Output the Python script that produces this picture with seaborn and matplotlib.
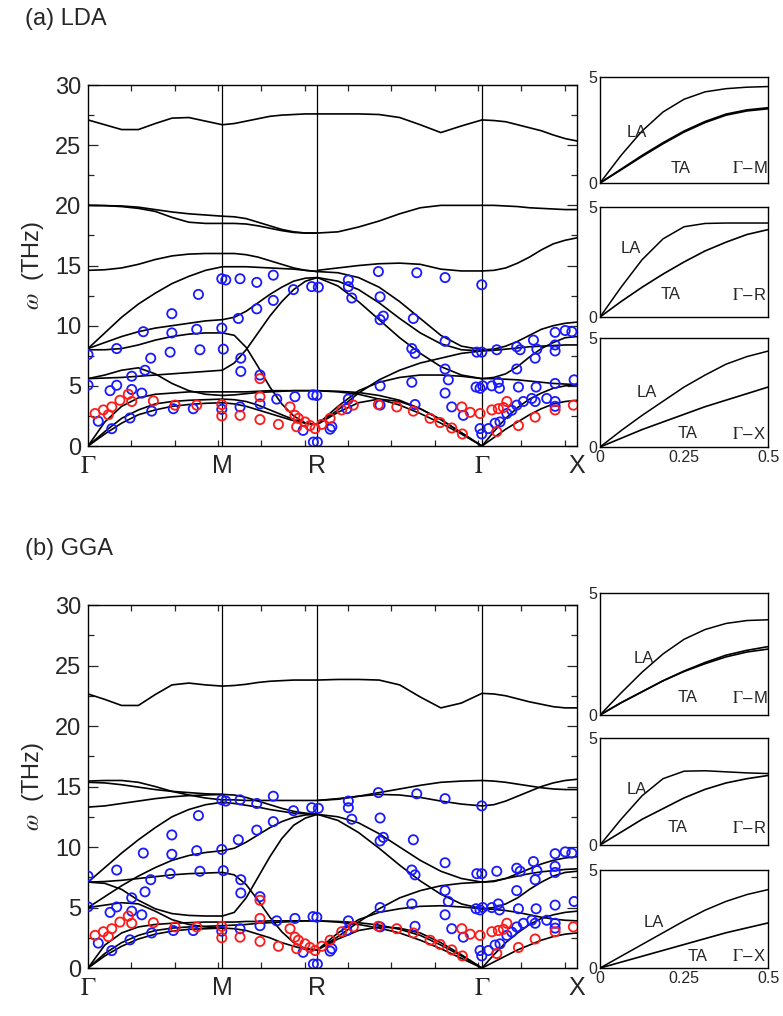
import numpy as np
import pandas as pd
import matplotlib
matplotlib.use("Agg")
import matplotlib.pyplot as plt
from matplotlib.ticker import MultipleLocator
import seaborn as sns

# ---------------------------------------------------------------------------
# k-path  Γ-M-R-Γ-X  (segment lengths in units of 2π/a)
# ---------------------------------------------------------------------------
SEG_LEN = [np.sqrt(2) / 2, 0.5, np.sqrt(3) / 2, 0.5]
SYM_LABELS = [r'$\Gamma$', 'M', 'R', r'$\Gamma$', 'X']
FRAC = np.linspace(0, 1, 9)          # read-off grid along every segment
SYM_K = np.concatenate([[0], np.cumsum(SEG_LEN)])

# ---------------------------------------------------------------------------
# (a) LDA branches, THz, one row per branch, 9 points per segment
# ---------------------------------------------------------------------------
LDA_GM = [
    [27.1, 26.7, 26.3, 26.3, 26.8, 27.25, 27.3, 27.0, 26.7],
    [20.0, 19.98, 19.95, 19.85, 19.65, 19.45, 19.3, 19.2, 19.1],
    [20.0, 19.98, 19.9, 19.75, 19.5, 19.0, 18.6, 18.5, 18.5],
    [14.6, 14.65, 14.8, 15.1, 15.5, 15.8, 15.95, 16.0, 16.0],
    [8.1, 9.4, 10.7, 11.8, 12.7, 13.5, 14.1, 14.6, 14.9],
    [8.1, 8.6, 9.1, 9.5, 9.8, 10.0, 10.2, 10.4, 10.5],
    [8.0, 8.0, 8.1, 8.4, 8.8, 9.1, 9.3, 9.4, 9.4],
    [5.6, 5.65, 5.7, 5.8, 5.9, 6.0, 6.1, 6.2, 6.3],
    [5.6, 5.9, 6.3, 6.5, 6.0, 5.2, 4.6, 4.3, 4.2],
    [0.0, 2.0, 3.3, 4.0, 4.3, 4.4, 4.5, 4.5, 4.5],
    [0.0, 1.2, 2.3, 3.0, 3.5, 3.7, 3.8, 3.85, 3.9],
    [0.0, 1.0, 1.9, 2.6, 3.0, 3.3, 3.45, 3.55, 3.6],
]
LDA_MR = [
    [26.7, 26.8, 27.0, 27.2, 27.4, 27.5, 27.55, 27.6, 27.6],
    [19.1, 19.05, 18.9, 18.6, 18.3, 18.0, 17.8, 17.7, 17.7],
    [18.5, 18.5, 18.45, 18.3, 18.1, 17.9, 17.75, 17.7, 17.7],
    [16.0, 16.0, 15.9, 15.7, 15.4, 15.1, 14.8, 14.6, 14.5],
    [14.9, 14.9, 14.9, 14.85, 14.8, 14.75, 14.7, 14.6, 14.5],
    [10.5, 10.7, 11.2, 11.9, 12.6, 13.2, 13.7, 13.95, 14.0],
    [9.4, 9.2, 8.2, 6.6, 4.9, 3.5, 2.5, 1.9, 1.8],
    [6.3, 6.9, 8.0, 9.4, 10.8, 12.0, 13.0, 13.7, 14.0],
    [4.2, 4.25, 4.35, 4.45, 4.5, 4.55, 4.6, 4.6, 4.6],
    [4.5, 4.5, 4.5, 4.55, 4.6, 4.6, 4.6, 4.6, 4.6],
    [3.9, 3.85, 3.7, 3.4, 3.0, 2.6, 2.2, 1.9, 1.8],
    [3.6, 3.5, 3.3, 3.0, 2.7, 2.4, 2.1, 1.9, 1.8],
]
LDA_RG = [
    [27.6, 27.6, 27.6, 27.55, 27.3, 26.7, 26.05, 26.6, 27.1],
    [17.7, 17.8, 18.2, 18.7, 19.3, 19.8, 20.0, 20.0, 20.0],
    [14.6, 14.8, 15.0, 15.15, 15.2, 15.1, 14.7, 14.55, 14.55],
    [14.5, 14.4, 14.0, 13.2, 12.0, 10.6, 9.2, 8.3, 8.0],
    [14.0, 13.3, 12.0, 10.5, 9.0, 7.7, 6.6, 5.9, 5.6],
    [14.0, 13.7, 13.0, 11.9, 10.6, 9.4, 8.5, 8.0, 7.9],
    [1.8, 3.0, 4.4, 5.5, 6.3, 6.9, 7.3, 7.7, 7.9],
    [1.8, 3.3, 4.6, 5.3, 5.7, 5.9, 5.9, 5.8, 5.6],
    [4.6, 4.55, 4.45, 4.2, 3.8, 3.1, 2.2, 1.1, 0.0],
    [4.6, 4.5, 4.3, 3.9, 3.4, 2.7, 1.9, 1.0, 0.0],
    [1.8, 2.8, 3.6, 3.9, 3.7, 3.1, 2.2, 1.1, 0.0],
]
LDA_GX = [
    [27.1, 27.05, 26.95, 26.7, 26.45, 26.2, 25.85, 25.55, 25.35],
    [20.0, 20.0, 19.95, 19.9, 19.8, 19.75, 19.7, 19.65, 19.65],
    [14.55, 14.6, 14.8, 15.2, 15.7, 16.3, 16.8, 17.1, 17.3],
    [8.0, 8.05, 8.3, 8.7, 9.2, 9.7, 10.0, 10.2, 10.3],
    [7.9, 7.95, 8.05, 8.15, 8.25, 8.3, 8.35, 8.4, 8.4],
    [5.6, 5.7, 6.0, 6.6, 7.4, 8.1, 8.6, 9.0, 9.1],
    [5.6, 5.6, 5.55, 5.5, 5.4, 5.3, 5.2, 5.15, 5.1],
    [0.0, 1.2, 2.3, 3.2, 3.9, 4.4, 4.8, 5.0, 5.1],
    [0.0, 0.7, 1.4, 2.0, 2.6, 3.1, 3.5, 3.7, 3.8],
]

# ---------------------------------------------------------------------------
# (b) GGA branches
# ---------------------------------------------------------------------------
GGA_GM = [
    [22.65, 22.2, 21.7, 21.7, 22.6, 23.4, 23.55, 23.4, 23.3],
    [15.45, 15.5, 15.5, 15.35, 15.0, 14.6, 14.3, 14.05, 13.9],
    [15.35, 15.3, 15.15, 14.95, 14.75, 14.6, 14.5, 14.4, 14.35],
    [13.3, 13.4, 13.6, 13.8, 14.0, 14.15, 14.25, 14.3, 14.35],
    [7.1, 8.3, 9.5, 10.6, 11.6, 12.5, 13.1, 13.5, 13.7],
    [5.0, 5.9, 6.8, 7.6, 8.3, 8.9, 9.3, 9.55, 9.7],
    [7.1, 7.15, 7.25, 7.4, 7.55, 7.7, 7.8, 7.85, 7.9],
    [7.1, 7.0, 6.5, 5.6, 4.9, 4.5, 4.35, 4.3, 4.3],
    [5.0, 5.2, 5.4, 5.3, 4.7, 4.0, 3.6, 3.4, 3.3],
    [0.0, 1.9, 2.9, 3.4, 3.6, 3.7, 3.75, 3.8, 3.8],
    [0.0, 1.2, 2.1, 2.7, 3.1, 3.3, 3.4, 3.45, 3.5],
    [0.0, 1.0, 1.8, 2.4, 2.8, 3.05, 3.2, 3.25, 3.3],
]
GGA_MR = [
    [23.3, 23.35, 23.45, 23.6, 23.7, 23.75, 23.8, 23.8, 23.8],
    [13.9, 13.9, 13.85, 13.85, 13.85, 13.85, 13.85, 13.85, 13.85],
    [14.35, 14.3, 14.1, 13.8, 13.5, 13.2, 12.95, 12.8, 12.7],
    [13.7, 13.6, 13.45, 13.3, 13.1, 12.95, 12.8, 12.75, 12.7],
    [9.7, 9.9, 10.4, 11.0, 11.6, 12.1, 12.45, 12.65, 12.7],
    [7.9, 7.7, 6.9, 5.6, 4.2, 3.0, 2.1, 1.6, 1.5],
    [4.3, 4.6, 5.8, 7.5, 9.2, 10.7, 11.8, 12.4, 12.7],
    [3.8, 3.8, 3.85, 3.85, 3.9, 3.9, 3.9, 3.9, 3.9],
    [3.5, 3.55, 3.6, 3.7, 3.75, 3.8, 3.85, 3.9, 3.9],
    [3.3, 3.25, 3.1, 2.8, 2.5, 2.1, 1.8, 1.55, 1.5],
]
GGA_RG = [
    [23.8, 23.85, 23.85, 23.8, 23.4, 22.4, 21.5, 21.9, 22.7],
    [13.85, 13.95, 14.2, 14.5, 14.8, 15.1, 15.35, 15.45, 15.5],
    [13.85, 14.0, 14.2, 14.35, 14.3, 14.1, 13.8, 13.55, 13.4],
    [12.7, 12.5, 12.0, 11.1, 10.0, 8.9, 8.0, 7.4, 7.1],
    [12.7, 12.2, 11.2, 9.9, 8.5, 7.2, 6.1, 5.3, 4.9],
    [1.5, 2.6, 3.8, 4.9, 5.8, 6.4, 6.8, 7.0, 7.1],
    [1.5, 2.9, 4.0, 4.6, 4.9, 5.1, 5.15, 5.05, 4.9],
    [3.9, 3.85, 3.75, 3.55, 3.2, 2.7, 1.9, 1.0, 0.0],
    [3.9, 3.8, 3.6, 3.3, 2.9, 2.3, 1.6, 0.8, 0.0],
    [1.5, 2.4, 3.1, 3.4, 3.3, 2.9, 2.1, 1.1, 0.0],
]
GGA_GX = [
    [22.7, 22.65, 22.5, 22.25, 22.0, 21.8, 21.6, 21.5, 21.5],
    [15.5, 15.45, 15.35, 15.2, 15.05, 14.9, 14.8, 14.75, 14.75],
    [13.4, 13.5, 13.8, 14.2, 14.6, 15.0, 15.3, 15.5, 15.6],
    [7.1, 7.15, 7.4, 7.8, 8.2, 8.6, 8.9, 9.1, 9.2],
    [7.1, 7.2, 7.4, 7.6, 7.8, 7.95, 8.05, 8.15, 8.2],
    [4.9, 5.0, 5.3, 5.8, 6.5, 7.1, 7.6, 7.9, 8.0],
    [4.9, 4.85, 4.75, 4.6, 4.4, 4.2, 4.05, 3.95, 3.9],
    [0.0, 1.1, 2.1, 2.9, 3.6, 4.1, 4.4, 4.6, 4.7],
    [0.0, 0.5, 1.0, 1.5, 1.9, 2.3, 2.6, 2.8, 2.9],
]

# ---------------------------------------------------------------------------
# Experimental points (k along path, THz) - same set in both panels
# ---------------------------------------------------------------------------
EXP_BLUE = [
    (0.0, 7.6), (0.0, 5.06), (0.151, 8.1), (0.054, 2.06), (0.125, 1.44),
    (0.221, 2.33), (0.335, 2.9), (0.449, 3.1), (0.554, 3.1), (0.704, 3.05),
    (0.116, 4.6), (0.151, 5.05), (0.230, 5.8), (0.230, 4.7), (0.283, 4.4),
    (0.300, 6.3), (0.330, 7.3), (0.432, 7.8), (0.589, 8.0), (0.712, 8.05),
    (0.291, 9.5), (0.441, 9.4), (0.572, 9.7), (0.704, 9.8), (0.441, 11.0),
    (0.581, 12.6), (0.704, 13.9), (0.725, 13.8), (0.800, 13.9), (0.888, 13.6),
    (0.975, 14.2), (0.791, 10.6), (0.888, 11.4), (0.975, 12.1), (1.081, 13.0),
    (1.177, 13.25), (1.212, 13.2), (0.804, 7.3), (0.804, 6.2), (0.905, 5.9),
    (0.993, 3.9), (1.089, 4.1), (1.204, 4.2), (1.184, 4.25), (0.905, 3.5),
    (0.800, 3.25), (1.132, 1.3), (1.186, 0.33), (1.207, 0.33), (1.274, 1.4),
    (1.528, 14.5), (1.730, 14.4), (1.879, 14.0), (2.072, 13.4), (1.370, 13.8),
    (1.370, 13.25), (1.388, 12.3), (1.537, 12.4), (1.554, 10.8), (1.537, 10.5),
    (1.712, 10.6), (1.879, 8.7), (1.704, 8.1), (1.721, 7.7), (1.879, 6.4),
    (1.896, 5.5), (1.704, 5.3), (1.537, 5.0), (1.370, 3.9), (1.362, 3.1),
    (1.537, 3.4), (1.721, 3.45), (1.879, 4.4), (1.914, 3.25), (1.975, 2.55),
    (1.283, 1.6), (2.063, 1.45), (2.072, 1.0), (2.107, 1.45), (2.142, 1.9),
    (2.168, 2.0), (2.046, 7.8), (2.072, 7.8), (2.151, 8.0), (2.256, 8.25),
    (2.274, 8.0), (2.344, 8.8), (2.362, 8.05), (2.458, 8.4), (2.458, 7.9),
    (2.353, 7.3), (2.256, 6.4), (2.458, 9.45), (2.511, 9.6), (2.546, 9.5),
    (2.042, 4.9), (2.063, 4.8), (2.077, 5.0), (2.125, 5.0), (2.165, 4.8),
    (2.159, 5.3), (2.265, 4.9), (2.358, 4.9), (2.458, 5.2), (2.558, 5.5),
    (2.204, 2.7), (2.230, 2.97), (2.256, 3.4), (2.291, 3.7), (2.335, 3.95),
    (2.353, 3.7), (2.414, 3.95), (2.458, 3.7), (2.458, 3.3),
]
EXP_RED = [
    (0.037, 2.7), (0.081, 3.0), (0.107, 2.6), (0.125, 3.25), (0.168, 3.8),
    (0.212, 4.3), (0.230, 3.7), (0.344, 3.75), (0.458, 3.4), (0.572, 3.4),
    (0.704, 3.45), (0.704, 2.5), (0.800, 2.55), (0.905, 2.2), (1.002, 1.8),
    (0.905, 5.6), (0.905, 4.1), (1.063, 3.25), (1.089, 2.55), (1.107, 2.3),
    (1.098, 1.6), (1.142, 2.0), (1.168, 1.7), (1.195, 1.45), (1.230, 1.8),
    (1.274, 2.3), (1.335, 3.0), (1.396, 3.4), (1.528, 3.45), (1.625, 3.25),
    (1.712, 2.9), (1.800, 2.3), (1.853, 1.95), (1.914, 1.5), (1.970, 1.0),
    (1.967, 3.25), (2.011, 2.8), (2.063, 2.7), (2.125, 3.0), (2.159, 3.1),
    (2.186, 3.2), (2.204, 3.7), (2.151, 1.2), (2.265, 1.7), (2.353, 2.4),
    (2.458, 3.0), (2.554, 3.4),
]

# ---------------------------------------------------------------------------
# Acoustic insets: q from 0 to 0.5, 9 points
# ---------------------------------------------------------------------------
INSET_Q = np.linspace(0, 0.5, 9)
INSET_TITLES = [r'$\Gamma$$-$M', r'$\Gamma$$-$R', r'$\Gamma$$-$X']

LDA_LA = [
    [0, 1.3, 2.45, 3.35, 3.95, 4.3, 4.45, 4.52, 4.55],
    [0, 1.35, 2.6, 3.55, 4.1, 4.25, 4.27, 4.27, 4.27],
    [0, 0.75, 1.45, 2.1, 2.75, 3.3, 3.8, 4.15, 4.4],
]
LDA_TA = [
    [[0, 0.65, 1.3, 1.9, 2.45, 2.9, 3.25, 3.45, 3.55],
     [0, 0.62, 1.25, 1.85, 2.4, 2.85, 3.2, 3.4, 3.5]],
    [[0, 0.7, 1.35, 1.95, 2.5, 3.0, 3.4, 3.75, 3.97]],
    [[0, 0.4, 0.8, 1.15, 1.5, 1.85, 2.15, 2.45, 2.75]],
]
GGA_LA = [
    [0, 0.9, 1.75, 2.5, 3.1, 3.5, 3.75, 3.87, 3.9],
    [0, 1.2, 2.3, 3.1, 3.45, 3.47, 3.42, 3.37, 3.34],
    [0, 0.6, 1.2, 1.8, 2.4, 2.95, 3.4, 3.75, 4.0],
]
GGA_TA = [
    [[0, 0.5, 0.95, 1.4, 1.8, 2.15, 2.45, 2.65, 2.8],
     [0, 0.5, 0.95, 1.4, 1.78, 2.1, 2.38, 2.58, 2.7]],
    [[0, 0.6, 1.2, 1.7, 2.2, 2.6, 2.9, 3.1, 3.25]],
    [[0, 0.3, 0.6, 0.9, 1.2, 1.5, 1.8, 2.05, 2.3]],
]
# label anchor positions (q, THz) for LA / TA text in each inset
LDA_LA_TXT = [(0.08, 2.4), (0.06, 3.1), (0.11, 2.5)]
LDA_TA_TXT = [(0.21, 0.7), (0.18, 1.0), (0.23, 0.6)]
GGA_LA_TXT = [(0.10, 2.3), (0.08, 2.6), (0.13, 2.3)]
GGA_TA_TXT = [(0.23, 0.7), (0.20, 0.8), (0.26, 0.6)]

BLUE = '#1a1aff'
RED = '#ff1a1a'

sns.set_theme(style="ticks")
plt.rcParams['font.family'] = ['Liberation Sans', 'DejaVu Sans']
plt.rcParams['mathtext.fontset'] = 'stix'


def branch_frame(segments):
    rows = []
    start = 0.0
    for s, (length, branches) in enumerate(zip(SEG_LEN, segments)):
        k = start + length * FRAC
        for b, w in enumerate(branches):
            rows.append(pd.DataFrame({'k': k, 'w': w, 'line': f'{s}-{b}'}))
        start += length
    return pd.concat(rows, ignore_index=True)


def draw_main(ax, segments):
    df = branch_frame(segments)
    for xv in SYM_K[1:-1]:
        ax.axvline(xv, color='black', lw=0.9, zorder=1)
    sns.lineplot(data=df, x='k', y='w', units='line', estimator=None,
                 color='black', lw=1.2, ax=ax, legend=False, zorder=2)
    bk, bw = zip(*EXP_BLUE)
    rk, rw = zip(*EXP_RED)
    sns.scatterplot(x=list(bk), y=list(bw), ax=ax, marker='o', s=44,
                    facecolor='none', edgecolor=BLUE, linewidth=1.3, zorder=4)
    sns.scatterplot(x=list(rk), y=list(rw), ax=ax, marker='o', s=44,
                    facecolor='none', edgecolor=RED, linewidth=1.3, zorder=4)

    ax.set_xlim(0, SYM_K[-1])
    ax.set_ylim(0, 30)
    ax.set_xticks(SYM_K)
    ax.set_xticklabels(SYM_LABELS, fontsize=18)
    ax.xaxis.set_minor_locator(MultipleLocator(0.228))
    ax.set_yticks(range(0, 31, 5))
    ax.yaxis.set_minor_locator(MultipleLocator(2.5))
    ax.tick_params(axis='y', which='major', direction='in', length=7, width=0.9,
                   right=True, labelsize=17, pad=5)
    ax.tick_params(axis='y', which='minor', direction='in', length=4, width=0.9, right=True)
    ax.tick_params(axis='x', which='major', length=0, pad=6)
    ax.tick_params(axis='x', which='minor', direction='in', length=4, width=0.9, top=True)
    ax.set_xlabel('')
    ax.set_ylabel(r'$\omega$  (THz)', fontsize=17)
    ax.yaxis.set_label_coords(-0.085, 0.5)
    for sp in ax.spines.values():
        sp.set_linewidth(1.0)
        sp.set_color('black')


def draw_insets(axes, la_list, ta_list, la_txt, ta_txt):
    for i, ax in enumerate(axes):
        sns.lineplot(x=INSET_Q, y=la_list[i], color='black', lw=1.1, ax=ax)
        for ta in ta_list[i]:
            sns.lineplot(x=INSET_Q, y=ta, color='black', lw=1.2, ax=ax)
        ax.set_xlim(0, 0.5)
        ax.set_ylim(0, 5)
        ax.set_yticks([0, 5])
        ax.set_yticklabels(['0', '5'])
        ax.tick_params(axis='both', length=0, labelsize=11.5, pad=2)
        if i == 2:
            ax.set_xticks([0, 0.25, 0.5])
            ax.set_xticklabels(['0', '0.25', '0.5'])
        else:
            ax.set_xticks([])
        ax.text(*la_txt[i], 'LA', fontsize=12, ha='left', va='center')
        ax.text(*ta_txt[i], 'TA', fontsize=12, ha='left', va='center')
        ax.text(0.392, ta_txt[i][1], INSET_TITLES[i], fontsize=12, ha='left', va='center')
        for sp in ax.spines.values():
            sp.set_linewidth(1.0)
            sp.set_color('black')


fig = plt.figure(figsize=(7.83, 10.16), dpi=100)

ax_a = fig.add_axes([0.1124, 0.561, 0.6245, 0.3553])
ax_b = fig.add_axes([0.1124, 0.0472, 0.6245, 0.3573])
ins_a = [fig.add_axes([0.7663, 0.8199, 0.2146, 0.1043]),
         fig.add_axes([0.7663, 0.6880, 0.2146, 0.1083]),
         fig.add_axes([0.7663, 0.5600, 0.2146, 0.1073])]
ins_b = [fig.add_axes([0.7663, 0.2963, 0.2146, 0.1201]),
         fig.add_axes([0.7663, 0.1683, 0.2146, 0.1053]),
         fig.add_axes([0.7663, 0.0472, 0.2146, 0.0965])]

draw_main(ax_a, [LDA_GM, LDA_MR, LDA_RG, LDA_GX])
draw_main(ax_b, [GGA_GM, GGA_MR, GGA_RG, GGA_GX])
draw_insets(ins_a, LDA_LA, LDA_TA, LDA_LA_TXT, LDA_TA_TXT)
draw_insets(ins_b, GGA_LA, GGA_TA, GGA_LA_TXT, GGA_TA_TXT)

fig.text(25 / 783, 1 - 19 / 1016, '(a) LDA', fontsize=17, ha='left', va='center')
fig.text(25 / 783, 1 - 549 / 1016, '(b) GGA', fontsize=17, ha='left', va='center')

fig.savefig('out.png', dpi=100)
